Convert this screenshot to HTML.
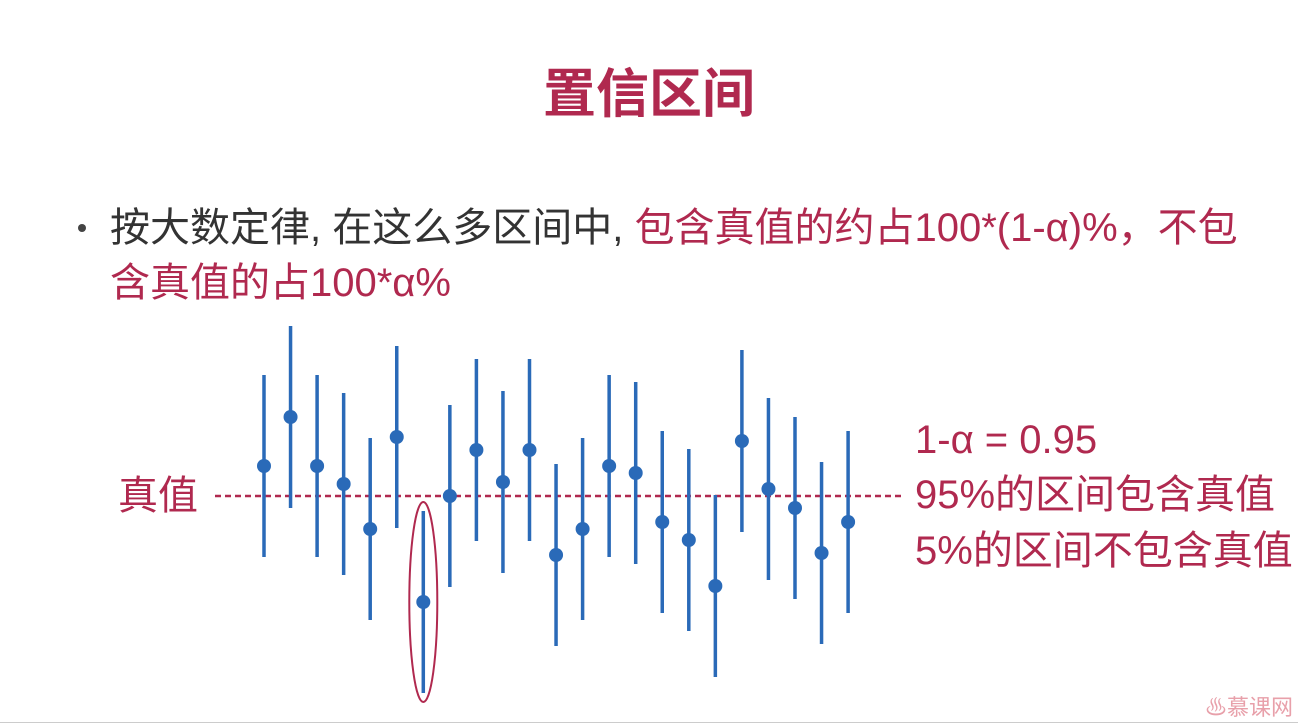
<!DOCTYPE html>
<html><head><meta charset="utf-8"><style>
body{margin:0;width:1298px;height:726px;background:#fff;overflow:hidden;position:relative;font-family:"Liberation Sans","Noto Sans CJK SC",sans-serif}
.t{position:absolute;white-space:nowrap;line-height:1}
.red{color:#b0294f}
</style></head><body>
<div class="t red" style="left:0;width:1298px;text-align:center;top:68px;font-size:53px;font-weight:bold;">置信区间</div>
<div class="t" style="left:78px;top:224px;width:8px;height:8px;border-radius:50%;background:#444"></div>
<div class="t" style="left:110px;top:208px;font-size:40px;color:#333">按大数定律, 在这么多区间中, <span class="red">包含真值的约占100*(1-α)%，不包</span></div>
<div class="t red" style="left:110px;top:263px;font-size:40px">含真值的占100*α%</div>
<div class="t red" style="left:118px;top:476px;font-size:40px">真值</div>
<div class="t red" style="left:915px;top:420px;font-size:40px">1-α = 0.95</div>
<div class="t red" style="left:915px;top:475px;font-size:40px">95%的区间包含真值</div>
<div class="t red" style="left:915px;top:531px;font-size:40px">5%的区间不包含真值</div>
<div class="t" style="left:1205px;top:697px;font-size:22px;color:#e8a0aa">♨慕课网</div>
<div class="t" style="left:0;top:722px;width:1298px;height:1px;background:#ccc"></div>
<svg id="chart" width="1298" height="726" style="position:absolute;left:0;top:0"></svg>
<script>
const centers=[30,79,30,12,-33,59,-106,0,46,14,46,-59,-33,30,23,-26,-44,-90,55,7,-12,-57,-26];
const halfWidths=[91,91,91,91,91,91,91,91,91,91,91,91,91,91,91,91,91,91,91,91,91,91,91];
const missIndex=[6];
const svg=document.getElementById('chart');
const NS='http://www.w3.org/2000/svg';
const xPos=i=>264+i*26.55;
const yPos=v=>496-v;
function mk(t,a){const e=document.createElementNS(NS,t);for(const k in a)e.setAttribute(k,a[k]);svg.appendChild(e);return e;}
const tl=mk('line',{x1:215,x2:905,y1:yPos(0),y2:yPos(0),stroke:'#b0294f','stroke-width':2.5,'stroke-dasharray':'6,4'});


centers.forEach((c,i)=>{
  const x=xPos(i);
  const l=mk('line',{x1:x,x2:x,y1:yPos(c+halfWidths[i]),y2:yPos(c-halfWidths[i]),stroke:'#2a6ab8','stroke-width':3.5});
  
  
  const p=mk('circle',{cx:x,cy:yPos(c),r:7,fill:'#2a6ab8'});
  
  
  if(missIndex.includes(i)){
    const e=mk('ellipse',{cx:x,cy:yPos(c),rx:14,ry:100,fill:'none',stroke:'#b0294f','stroke-width':2});
    
    
  }
});
</script>
</body></html>
